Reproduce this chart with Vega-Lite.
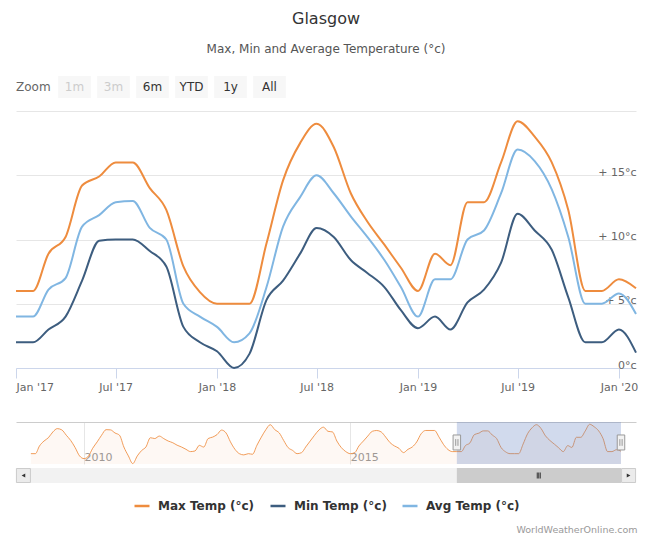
{
  "$schema": "https://vega.github.io/schema/vega-lite/v6.json",
  "background": "white",
  "padding": {"left": 12, "right": 15, "top": 11, "bottom": 0},
  "title": {"text": "Glasgow", "subtitle": "Max, Min and Average Temperature (°c)", "anchor": "middle", "fontSize": 16, "fontWeight": "normal", "color": "#333333", "subtitleFontSize": 12, "subtitleColor": "#555555", "subtitlePadding": 17, "offset": 21},
  "config": {"font": "DejaVu Sans", "view": {"stroke": null}, "legend": {"layout": {"bottom": {"anchor": "middle"}}}},
  "datasets": {
    "temps": [
      {"date": "2017-01-01", "max": 6, "min": 2, "avg": 4},
      {"date": "2017-02-01", "max": 6, "min": 2, "avg": 4},
      {"date": "2017-03-01", "max": 8.9, "min": 3, "avg": 6.1},
      {"date": "2017-04-01", "max": 10.2, "min": 4, "avg": 7},
      {"date": "2017-05-01", "max": 14.2, "min": 6.8, "avg": 11},
      {"date": "2017-06-01", "max": 14.9, "min": 9.9, "avg": 11.9},
      {"date": "2017-07-01", "max": 16, "min": 10, "avg": 12.9},
      {"date": "2017-08-01", "max": 16, "min": 10, "avg": 13},
      {"date": "2017-09-01", "max": 14, "min": 9.1, "avg": 10.9},
      {"date": "2017-10-01", "max": 12.3, "min": 7.9, "avg": 10},
      {"date": "2017-11-01", "max": 7.9, "min": 3.2, "avg": 5},
      {"date": "2017-12-01", "max": 5.9, "min": 2, "avg": 4},
      {"date": "2018-01-01", "max": 5, "min": 1.3, "avg": 3.2},
      {"date": "2018-02-01", "max": 5, "min": 0, "avg": 2},
      {"date": "2018-03-01", "max": 5, "min": 1.1, "avg": 2.7},
      {"date": "2018-04-01", "max": 9.7, "min": 5.3, "avg": 6.3},
      {"date": "2018-05-01", "max": 14.6, "min": 6.8, "avg": 11},
      {"date": "2018-06-01", "max": 17.5, "min": 8.9, "avg": 13.3},
      {"date": "2018-07-01", "max": 19, "min": 10.9, "avg": 15},
      {"date": "2018-08-01", "max": 17.2, "min": 10.2, "avg": 13.6},
      {"date": "2018-09-01", "max": 13.6, "min": 8.4, "avg": 11.8},
      {"date": "2018-10-01", "max": 11.4, "min": 7.4, "avg": 10.2},
      {"date": "2018-11-01", "max": 9.6, "min": 6.3, "avg": 8.4},
      {"date": "2018-12-01", "max": 7.8, "min": 4.5, "avg": 6.3},
      {"date": "2019-01-01", "max": 6, "min": 3.1, "avg": 4},
      {"date": "2019-02-01", "max": 8.9, "min": 4, "avg": 6.9},
      {"date": "2019-03-01", "max": 8, "min": 3, "avg": 6.9},
      {"date": "2019-04-01", "max": 12.9, "min": 5.1, "avg": 10},
      {"date": "2019-05-01", "max": 12.9, "min": 6.1, "avg": 10.7},
      {"date": "2019-06-01", "max": 16, "min": 8.2, "avg": 13.6},
      {"date": "2019-07-01", "max": 19.2, "min": 12, "avg": 17},
      {"date": "2019-08-01", "max": 18, "min": 10.7, "avg": 16.1},
      {"date": "2019-09-01", "max": 16, "min": 9.2, "avg": 13.9},
      {"date": "2019-10-01", "max": 12.3, "min": 5.5, "avg": 10.2},
      {"date": "2019-11-01", "max": 6, "min": 2, "avg": 5},
      {"date": "2019-12-01", "max": 6, "min": 2, "avg": 5},
      {"date": "2020-01-01", "max": 6.9, "min": 3, "avg": 5.8},
      {"date": "2020-02-01", "max": 6.2, "min": 1.2, "avg": 4.2}
    ],
    "history": [
      {"date": "2009-01-01", "max": 5.0}, {"date": "2009-02-01", "max": 5.0}, {"date": "2009-03-01", "max": 8.7}, {"date": "2009-04-01", "max": 11.1}, {"date": "2009-05-01", "max": 12.7}, {"date": "2009-06-01", "max": 15.5}, {"date": "2009-07-01", "max": 17.1}, {"date": "2009-08-01", "max": 16.5}, {"date": "2009-09-01", "max": 13.9}, {"date": "2009-10-01", "max": 11.4}, {"date": "2009-11-01", "max": 7.9}, {"date": "2009-12-01", "max": 3.9},
      {"date": "2010-01-01", "max": 2.6}, {"date": "2010-02-01", "max": 3.9}, {"date": "2010-03-01", "max": 7.6}, {"date": "2010-04-01", "max": 10.7}, {"date": "2010-05-01", "max": 13.9}, {"date": "2010-06-01", "max": 16.6}, {"date": "2010-07-01", "max": 16.5}, {"date": "2010-08-01", "max": 15.0}, {"date": "2010-09-01", "max": 13.9}, {"date": "2010-10-01", "max": 8.2}, {"date": "2010-11-01", "max": 3.9}, {"date": "2010-12-01", "max": 0.2},
      {"date": "2011-01-01", "max": 3.9}, {"date": "2011-02-01", "max": 6.6}, {"date": "2011-03-01", "max": 8.2}, {"date": "2011-04-01", "max": 12.7}, {"date": "2011-05-01", "max": 12.3}, {"date": "2011-06-01", "max": 13.5}, {"date": "2011-07-01", "max": 12.3}, {"date": "2011-08-01", "max": 11.1}, {"date": "2011-09-01", "max": 10.3}, {"date": "2011-10-01", "max": 9.1}, {"date": "2011-11-01", "max": 8.2}, {"date": "2011-12-01", "max": 7.1},
      {"date": "2012-01-01", "max": 6.0}, {"date": "2012-02-01", "max": 6.3}, {"date": "2012-03-01", "max": 9.0}, {"date": "2012-04-01", "max": 8.2}, {"date": "2012-05-01", "max": 12.3}, {"date": "2012-06-01", "max": 13.0}, {"date": "2012-07-01", "max": 14.2}, {"date": "2012-08-01", "max": 16.4}, {"date": "2012-09-01", "max": 15.0}, {"date": "2012-10-01", "max": 10.7}, {"date": "2012-11-01", "max": 7.1}, {"date": "2012-12-01", "max": 5.0},
      {"date": "2013-01-01", "max": 4.4}, {"date": "2013-02-01", "max": 5.0}, {"date": "2013-03-01", "max": 4.7}, {"date": "2013-04-01", "max": 9.1}, {"date": "2013-05-01", "max": 13.0}, {"date": "2013-06-01", "max": 16.6}, {"date": "2013-07-01", "max": 19.0}, {"date": "2013-08-01", "max": 16.6}, {"date": "2013-09-01", "max": 15.0}, {"date": "2013-10-01", "max": 11.4}, {"date": "2013-11-01", "max": 7.9}, {"date": "2013-12-01", "max": 6.6},
      {"date": "2014-01-01", "max": 5.0}, {"date": "2014-02-01", "max": 5.5}, {"date": "2014-03-01", "max": 8.2}, {"date": "2014-04-01", "max": 11.1}, {"date": "2014-05-01", "max": 13.9}, {"date": "2014-06-01", "max": 16.5}, {"date": "2014-07-01", "max": 17.8}, {"date": "2014-08-01", "max": 15.8}, {"date": "2014-09-01", "max": 15.5}, {"date": "2014-10-01", "max": 11.1}, {"date": "2014-11-01", "max": 7.9}, {"date": "2014-12-01", "max": 6.0},
      {"date": "2015-01-01", "max": 5.0}, {"date": "2015-02-01", "max": 5.5}, {"date": "2015-03-01", "max": 8.7}, {"date": "2015-04-01", "max": 11.1}, {"date": "2015-05-01", "max": 13.5}, {"date": "2015-06-01", "max": 15.8}, {"date": "2015-07-01", "max": 16.2}, {"date": "2015-08-01", "max": 15.5}, {"date": "2015-09-01", "max": 13.0}, {"date": "2015-10-01", "max": 10.3}, {"date": "2015-11-01", "max": 8.7}, {"date": "2015-12-01", "max": 7.6},
      {"date": "2016-01-01", "max": 5.5}, {"date": "2016-02-01", "max": 7.1}, {"date": "2016-03-01", "max": 8.2}, {"date": "2016-04-01", "max": 10.7}, {"date": "2016-05-01", "max": 14.6}, {"date": "2016-06-01", "max": 16.2}, {"date": "2016-07-01", "max": 16.2}, {"date": "2016-08-01", "max": 16.2}, {"date": "2016-09-01", "max": 13.0}, {"date": "2016-10-01", "max": 9.5}, {"date": "2016-11-01", "max": 7.0}, {"date": "2016-12-01", "max": 6.0},
      {"date": "2017-01-01", "max": 6}, {"date": "2017-02-01", "max": 6}, {"date": "2017-03-01", "max": 8.9}, {"date": "2017-04-01", "max": 10.2}, {"date": "2017-05-01", "max": 14.2}, {"date": "2017-06-01", "max": 14.9}, {"date": "2017-07-01", "max": 16}, {"date": "2017-08-01", "max": 16}, {"date": "2017-09-01", "max": 14}, {"date": "2017-10-01", "max": 12.3}, {"date": "2017-11-01", "max": 7.9}, {"date": "2017-12-01", "max": 5.9},
      {"date": "2018-01-01", "max": 5}, {"date": "2018-02-01", "max": 5}, {"date": "2018-03-01", "max": 5}, {"date": "2018-04-01", "max": 9.7}, {"date": "2018-05-01", "max": 14.6}, {"date": "2018-06-01", "max": 17.5}, {"date": "2018-07-01", "max": 19}, {"date": "2018-08-01", "max": 17.2}, {"date": "2018-09-01", "max": 13.6}, {"date": "2018-10-01", "max": 11.4}, {"date": "2018-11-01", "max": 9.6}, {"date": "2018-12-01", "max": 7.8},
      {"date": "2019-01-01", "max": 6}, {"date": "2019-02-01", "max": 8.9}, {"date": "2019-03-01", "max": 8}, {"date": "2019-04-01", "max": 12.9}, {"date": "2019-05-01", "max": 12.9}, {"date": "2019-06-01", "max": 16}, {"date": "2019-07-01", "max": 19.2}, {"date": "2019-08-01", "max": 18}, {"date": "2019-09-01", "max": 16}, {"date": "2019-10-01", "max": 12.3}, {"date": "2019-11-01", "max": 6}, {"date": "2019-12-01", "max": 6},
      {"date": "2020-01-01", "max": 6.9}, {"date": "2020-02-01", "max": 6.2}
    ]
  },
  "resolve": {"scale": {"color": "independent"}, "legend": {"color": "independent"}},
  "spacing": 30,
  "vconcat": [
    {
      "spacing": 13,
      "resolve": {"scale": {"color": "independent"}, "legend": {"color": "independent"}},
      "vconcat": [
        {
          "width": 273,
          "height": 22,
          "data": {"values": [
            {"label": "Zoom", "state": "caption"},
            {"label": "1m", "state": "disabled"},
            {"label": "3m", "state": "disabled"},
            {"label": "6m", "state": "enabled"},
            {"label": "YTD", "state": "enabled"},
            {"label": "1y", "state": "enabled"},
            {"label": "All", "state": "enabled"}
          ]},
          "encoding": {"x": {"field": "label", "type": "nominal", "axis": null, "scale": {"domain": ["Zoom", "1m", "3m", "6m", "YTD", "1y", "All"], "paddingInner": 0, "paddingOuter": 0}}},
          "layer": [
            {"transform": [{"filter": "datum.state != 'caption'"}], "mark": {"type": "bar", "color": "#f7f7f7", "width": {"band": 0.84}}},
            {"transform": [{"filter": "datum.state != 'caption'"}],
             "mark": {"type": "text", "fontSize": 12},
             "encoding": {"text": {"field": "label"},
                          "color": {"condition": {"test": "datum.state == 'disabled'", "value": "#cccccc"}, "value": "#333333"}}},
            {"transform": [{"filter": "datum.state == 'caption'"}],
             "mark": {"type": "text", "fontSize": 12, "align": "left", "color": "#666666"},
             "encoding": {"x": {"field": "label", "type": "nominal", "bandPosition": 0}, "text": {"field": "label"}}}
          ]
        },
        {
          "width": 620,
          "height": 257,
          "data": {"name": "temps"},
          "transform": [{"fold": ["max", "min", "avg"], "as": ["series", "temp"]}],
          "mark": {"type": "line", "interpolate": "monotone", "strokeWidth": 2},
          "encoding": {
            "x": {"field": "date", "type": "temporal",
                  "scale": {"type": "utc", "domain": [{"year": 2017, "month": 1, "date": 1, "utc": true}, {"year": 2020, "month": 2, "date": 1, "utc": true}]},
                  "axis": {"title": null, "tickCount": {"interval": "month", "step": 6}, "format": "%b '%y", "labelFlush": true, "grid": false, "domainColor": "#ccd6eb", "tickColor": "#ccd6eb", "tickSize": 10, "labelColor": "#666666", "labelFontSize": 11, "labelPadding": 3}},
            "y": {"field": "temp", "type": "quantitative",
                  "scale": {"domain": [0, 20], "nice": false},
                  "axis": {"title": null, "orient": "right", "values": [0, 5, 10, 15, 20], "labelExpr": "datum.value == 0 ? '0°c' : (datum.value == 20 ? '' : '+ ' + datum.value + '°c')", "domain": false, "ticks": false, "grid": true, "gridColor": "#e6e6e6", "labelAlign": "right", "labelBaseline": "alphabetic", "labelPadding": 0, "labelDy": -4, "labelColor": "#666666", "labelFontSize": 11}},
            "color": {"field": "series", "type": "nominal", "scale": {"domain": ["max", "min", "avg"], "range": ["#ee8c3e", "#3d5d7f", "#80b6e2"]}, "legend": null}
          }
        }
      ]
    },
    {
      "spacing": 0,
      "resolve": {"scale": {"color": "independent"}, "legend": {"color": "independent"}},
      "vconcat": [
        {
          "width": 620,
          "height": 42,
          "layer": [
            {"data": {"name": "history"},
             "mark": {"type": "area", "interpolate": "monotone", "color": "#ee8c3e", "opacity": 0.06},
             "encoding": {
               "x": {"field": "date", "type": "temporal",
                     "scale": {"type": "utc", "domain": [{"year": 2008, "month": 9, "date": 21, "utc": true}, {"year": 2020, "month": 5, "date": 14, "utc": true}]},
                     "axis": {"title": null, "orient": "bottom", "values": [{"year": 2010, "month": 1, "date": 1, "utc": true}, {"year": 2015, "month": 1, "date": 1, "utc": true}], "format": "%Y", "grid": true, "gridColor": "#e6e6e6", "ticks": false, "domain": false, "labelAlign": "left", "labelBaseline": "alphabetic", "labelPadding": -4, "labelDx": 3, "labelColor": "#999999", "labelFontSize": 11}},
               "y": {"field": "max", "type": "quantitative", "scale": {"domain": [0, 20.3], "nice": false, "zero": false}, "axis": null}
             }},
            {"data": {"name": "history"},
             "mark": {"type": "line", "interpolate": "monotone", "color": "#ee8c3e", "strokeWidth": 1, "opacity": 0.85},
             "encoding": {
               "x": {"field": "date", "type": "temporal", "axis": null},
               "y": {"field": "max", "type": "quantitative", "axis": null}
             }},
            {"data": {"values": [{"start": "2017-01-01", "end": "2020-02-01"}]},
             "mark": {"type": "rect", "color": "#6685c2", "opacity": 0.3},
             "encoding": {
               "x": {"field": "start", "type": "temporal", "axis": {"title": null, "orient": "top", "labels": false, "ticks": false, "grid": false, "domain": true, "domainColor": "#cccccc"}},
               "x2": {"field": "end"}
             }},
            {"data": {"values": [{"edge": "2017-01-01"}, {"edge": "2020-02-01"}]},
             "mark": {"type": "point", "shape": "M-0.5,-1H0.5V1H-0.5ZM-0.15,-0.45V0.45M0.15,-0.45V0.45", "filled": true, "fill": "#f2f2f2", "stroke": "#999999", "strokeWidth": 1, "size": 225, "opacity": 1},
             "encoding": {
               "x": {"field": "edge", "type": "temporal", "axis": null},
               "y": {"datum": 10.4, "type": "quantitative", "axis": null}
             }}
          ]
        },
        {
          "width": 620,
          "height": 15,
          "view": {"fill": "#f2f2f2", "stroke": null},
          "title": {"text": "WorldWeatherOnline.com", "orient": "bottom", "anchor": "end", "fontSize": 9.5, "fontWeight": "normal", "color": "#999999", "offset": 13},
          "layer": [
            {"data": {"values": [{"start": "2017-01-01", "end": "2020-02-01"}]},
             "mark": {"type": "rect", "color": "#cccccc"},
             "encoding": {
               "x": {"field": "start", "type": "temporal", "axis": null,
                     "scale": {"type": "utc", "domain": [{"year": 2008, "month": 9, "date": 21, "utc": true}, {"year": 2020, "month": 5, "date": 14, "utc": true}]}},
               "x2": {"field": "end"}
             }},
            {"data": {"values": [{}]},
             "mark": {"type": "point", "shape": "M-0.5,-1V1M0,-1V1M0.5,-1V1", "filled": false, "stroke": "#333333", "strokeWidth": 1, "size": 36, "opacity": 1},
             "encoding": {"x": {"datum": {"year": 2018, "month": 7, "date": 17, "utc": true}, "type": "temporal", "axis": null}}},
            {"data": {"values": [{}]},
             "mark": {"type": "square", "size": 196, "color": "#ebebeb", "stroke": "#cccccc", "strokeWidth": 1, "opacity": 1},
             "encoding": {"x": {"datum": {"year": 2008, "month": 11, "date": 11, "utc": true}, "type": "temporal", "axis": null}}},
            {"data": {"values": [{}]},
             "mark": {"type": "square", "size": 196, "color": "#ebebeb", "stroke": "#cccccc", "strokeWidth": 1, "opacity": 1},
             "encoding": {"x": {"datum": {"year": 2020, "month": 3, "date": 24, "utc": true}, "type": "temporal", "axis": null}}},
            {"data": {"values": [{}]},
             "mark": {"type": "point", "shape": "triangle-left", "size": 18, "filled": true, "color": "#333333", "opacity": 1},
             "encoding": {"x": {"datum": {"year": 2008, "month": 11, "date": 11, "utc": true}, "type": "temporal", "axis": null}}},
            {"data": {"values": [{}]},
             "mark": {"type": "point", "shape": "triangle-right", "size": 18, "filled": true, "color": "#333333", "opacity": 1},
             "encoding": {"x": {"datum": {"year": 2020, "month": 3, "date": 24, "utc": true}, "type": "temporal", "axis": null}}},
            {"data": {"name": "temps"},
             "transform": [{"fold": ["max", "min", "avg"], "as": ["series", "temp"]}],
             "mark": {"type": "line", "opacity": 0},
             "encoding": {
               "x": {"field": "date", "type": "temporal", "axis": null},
               "color": {"field": "series", "type": "nominal",
                         "scale": {"domain": ["max", "min", "avg"], "range": ["#ee8c3e", "#3d5d7f", "#80b6e2"]},
                         "legend": {"orient": "bottom", "direction": "horizontal", "title": null, "symbolType": "stroke", "symbolSize": 225, "symbolStrokeWidth": 2.5, "labelFontSize": 12, "labelFontWeight": "bold", "labelColor": "#333333", "columnPadding": 10, "labelOffset": 7, "offset": 14,
                                    "labelExpr": "datum.value == 'max' ? 'Max Temp (°c)' : (datum.value == 'min' ? 'Min Temp (°c)' : 'Avg Temp (°c)')"}}
             }}
          ]
        }
      ]
    }
  ]
}
